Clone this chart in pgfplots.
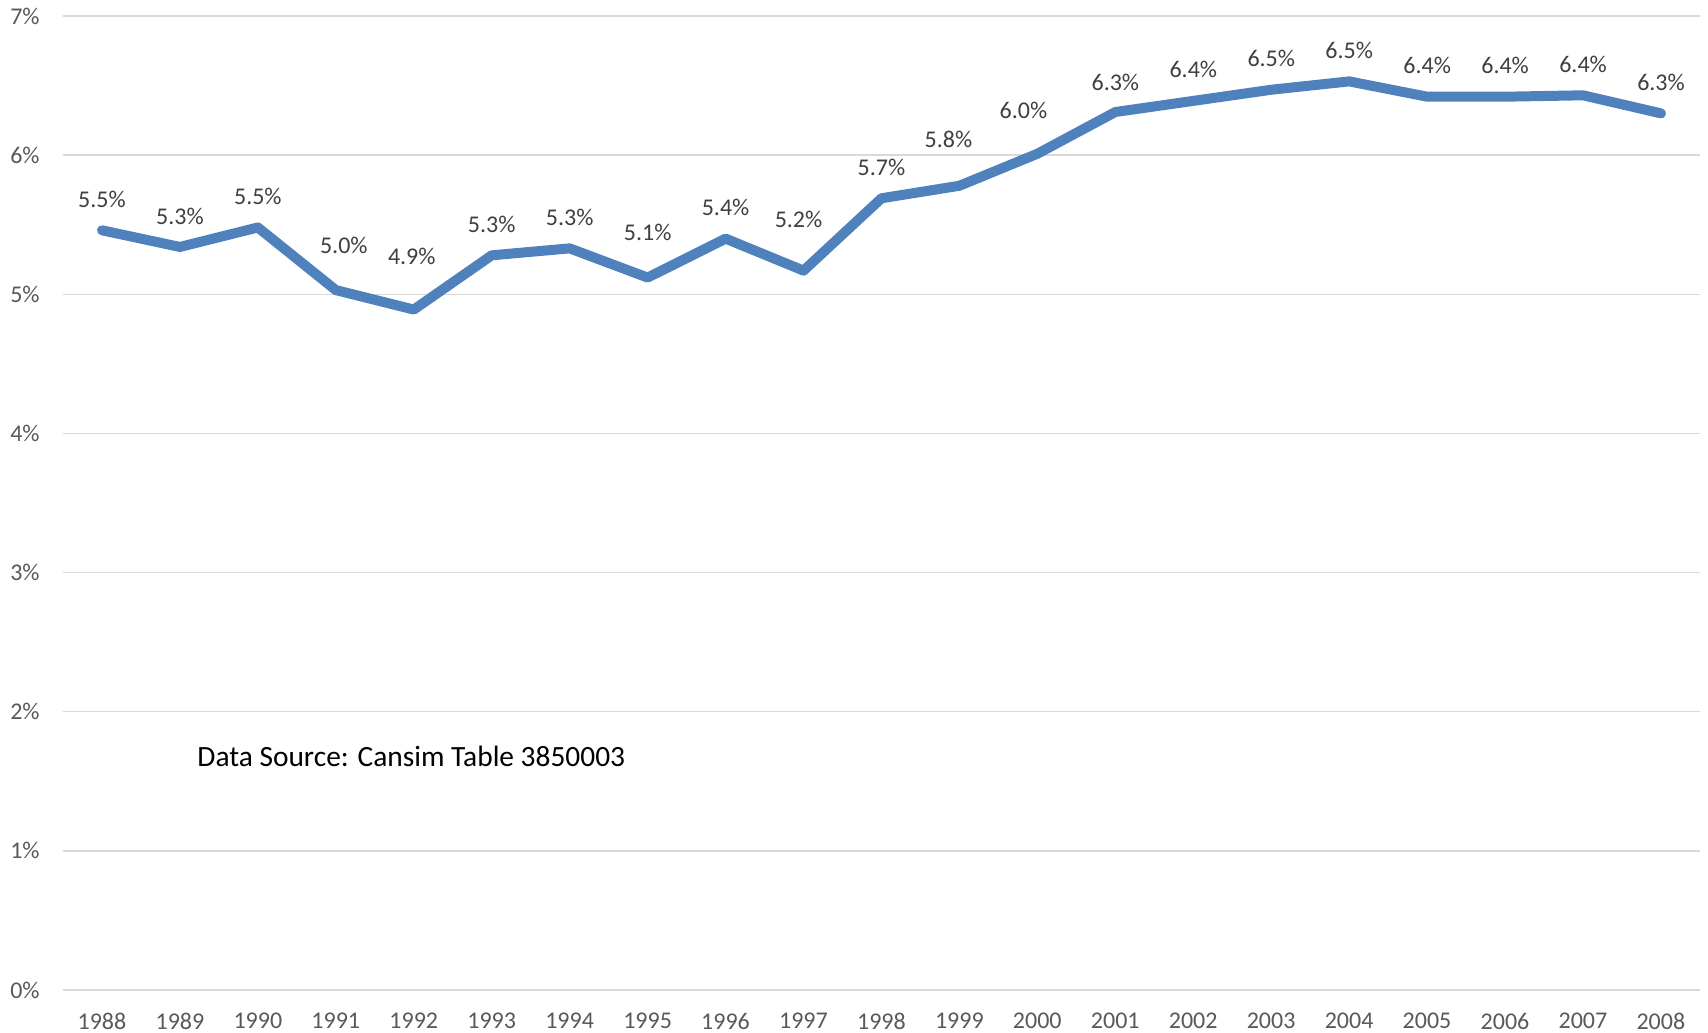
\documentclass[border=0pt]{standalone}
\usepackage{pgfplots}
\pgfplotsset{compat=1.18}
\usepackage{fontspec}
\setmainfont{Carlito}
\definecolor{lineblue}{HTML}{4F81BD}
\definecolor{gridgray}{HTML}{D9D9D9}
\definecolor{tickgray}{HTML}{595959}
\definecolor{lblgray}{HTML}{404040}
\begin{document}
\begin{tikzpicture}
\useasboundingbox (-31.5bp,-21.5bp) rectangle (822.5bp,495bp);
\begin{axis}[
  at={(0,0)}, anchor=south west,
  width=818.5bp, height=487bp, scale only axis,
  xmin=1987.5, xmax=2008.5, ymin=0, ymax=7,
  xtick={1988,...,2008}, ytick={0,...,7},
  /pgf/number format/assume math mode=true,
  xticklabel style={/pgf/number format/1000 sep=, anchor=center, yshift=-15.5bp, font=\fontsize{12bp}{14bp}\selectfont, text=tickgray},
  yticklabel={\pgfmathprintnumber{\tick}\%},
  yticklabel style={anchor=east, inner sep=0pt, xshift=-11.5bp, font=\fontsize{12bp}{14bp}\selectfont, text=tickgray},
  axis line style={draw=none},
  major tick style={draw=none},
  ymajorgrids, major grid style={draw=gridgray, line width=0.75bp},
  clip=false,
]
\addplot[color=lineblue, line width=5bp, line join=round, line cap=round,
  point meta=y,
  visualization depends on={value \thisrow{dx} \as \lblx},
  visualization depends on={value \thisrow{dy} \as \lbly},
  nodes near coords={\pgfmathprintnumber[fixed,fixed zerofill,precision=1]{\pgfplotspointmeta}\%},
  every node near coord/.append style={anchor=center, xshift=\lblx bp, yshift=\lbly bp, fill=white, inner sep=1.5bp, text=lblgray, font=\fontsize{12bp}{14bp}\selectfont},
] table[x=x, y=y] {
x y dx dy
1988 5.46 0 15.5
1989 5.34 0 15.5
1990 5.48 0 15.5
1991 5.03 4 22.5
1992 4.89 -1 26.5
1993 5.28 0 15.5
1994 5.33 0 15.5
1995 5.12 0 22.5
1996 5.40 0 15.5
1997 5.17 -2.5 25.5
1998 5.69 0 15.5
1999 5.78 -5.5 23
2000 6.01 -7 21.5
2001 6.31 0 15
2002 6.39 0 15.5
2003 6.47 0 15.5
2004 6.53 0 15.5
2005 6.42 0 15.5
2006 6.42 0 15.5
2007 6.43 0 15.5
2008 6.30 0 15.5
};
\node[anchor=base west, inner sep=0pt, font=\fontsize{14.7bp}{17bp}\selectfont, text=black] at (rel axis cs:0.0819,0.229) {Data Source: Cansim Table 3850003};
\end{axis}
\end{tikzpicture}
\end{document}
